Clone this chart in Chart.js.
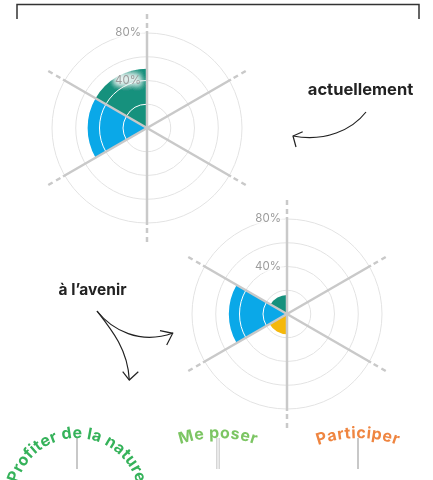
<!DOCTYPE html>
<html>
<head>
<meta charset="utf-8">
<script src="https://cdn.jsdelivr.net/npm/chart.js@4"></script>
<style>
  html, body { margin:0; padding:0; background:#fff; }
  #wrap { position:relative; width:433px; height:480px; overflow:hidden; font-family:Inter, "Noto Sans", sans-serif; }
  .pc { position:absolute; width:240px; height:240px; }
  #deco { position:absolute; left:0; top:0; }
</style>
</head>
<body>
<div id="wrap">
  <div class="pc" style="left:27px;top:8px"><canvas id="nowChart" width="240" height="240"></canvas></div>
  <div class="pc" style="left:167px;top:194px"><canvas id="laterChart" width="240" height="240"></canvas></div>
  <svg id="deco" width="433" height="480">
    <!-- bracket -->
    <path d="M17,19 V4.5 H419 V19" fill="none" stroke="#333" stroke-width="1.5"/>
    <text x="360.5" y="95" text-anchor="middle" font-family="Inter" font-weight="700" font-size="16.5" fill="#222">actuellement</text>
    <path d="M366,112 C352,130 325,142 293,136" fill="none" stroke="#222" stroke-width="1.2"/>
    <path d="M302.7,131.7 L293,136 L296,147" fill="none" stroke="#222" stroke-width="1.2"/>
    <text x="92.5" y="295" text-anchor="middle" font-family="Inter" font-weight="700" font-size="15.5" fill="#222">à l’avenir</text>
    <path d="M97,311 C112,330 140,345 173,333" fill="none" stroke="#222" stroke-width="1.2"/>
    <path d="M160,330.7 L172.7,333.3 L166.7,345" fill="none" stroke="#222" stroke-width="1.2"/>
    <path d="M97,311 C112,330 128,350 129.3,380" fill="none" stroke="#222" stroke-width="1.2"/>
    <path d="M122.7,371.7 L129.3,380 L138.3,371.7" fill="none" stroke="#222" stroke-width="1.2"/>
    <!-- label stems -->
    <line x1="77" y1="438" x2="77" y2="469" stroke="#c8c8c8" stroke-width="2"/>
    <line x1="218" y1="438" x2="218" y2="469" stroke="#c8c8c8" stroke-width="3.5"/>
    <line x1="218" y1="438" x2="218" y2="469" stroke="#fff" stroke-width="1.2"/>
    <line x1="358" y1="438" x2="358" y2="469" stroke="#c8c8c8" stroke-width="2"/>
    <!-- curved labels -->
    <defs>
      <path id="arc1" d="M15,500 A62,62 0 0 1 139,500"/>
      <path id="arc2" d="M101,555 A117,117 0 0 1 335,555"/>
      <path id="arc3" d="M241,555 A117,117 0 0 1 475,555"/>
    </defs>
    <text font-family="Inter" font-weight="700" font-size="16" fill="#35b25a" letter-spacing="0.3"><textPath href="#arc1" startOffset="50%" text-anchor="middle">Profiter de la nature</textPath></text>
    <text font-family="Inter" font-weight="700" font-size="16" fill="#7cc563" letter-spacing="0.5"><textPath href="#arc2" startOffset="50%" text-anchor="middle">Me poser</textPath></text>
    <text font-family="Inter" font-weight="700" font-size="16" fill="#ef8540" letter-spacing="0.5"><textPath href="#arc3" startOffset="50%" text-anchor="middle">Participer</textPath></text>
  </svg>
</div>
<script>
// six sectors, clockwise from the top
var sectors = ['secteur 1','secteur 2','secteur 3','secteur 4','secteur 5','secteur 6'];
var valuesNow   = [0, 0, 0, 0, 50, 50];
var valuesLater = [0, 0, 0, 17, 49, 16];
var sectorColors = ['#cccccc','#cccccc','#cccccc','#f5b80b','#0aa8e8','#16917d'];
var tickLabels = [40, 80];

var GRID = '#e3e3e3', AXIS = '#c9c9c9';

var polarDeco = {
  id:'polarDeco',
  afterDatasetsDraw: function(chart) {
    var ctx = chart.ctx, sc = chart.scales.r;
    var cx = sc.xCenter, cy = sc.yCenter;
    var arcs = chart.getDatasetMeta(0).data;
    // white rings over the filled sectors
    ctx.save();
    ctx.strokeStyle = '#fff'; ctx.lineWidth = 1;
    arcs.forEach(function(a){
      var p = a.getProps(['startAngle','endAngle','outerRadius']);
      sc.ticks.forEach(function(t){
        var r = sc.getDistanceFromCenterForValue(t.value);
        if (t.value > 0 && r < p.outerRadius) {
          ctx.beginPath(); ctx.arc(cx, cy, r, p.startAngle, p.endAngle); ctx.stroke();
        }
      });
    });
    // axis lines, solid then dashed
    var base = sc.drawingArea;
    ctx.strokeStyle = AXIS; ctx.lineWidth = 2.5;
    for (var i = 0; i < sectors.length; i++) {
      var a0 = sc.getPointPosition(i, 0), a1 = sc.getPointPosition(i, base + 2);
      ctx.setLineDash([]);
      ctx.beginPath(); ctx.moveTo(a0.x, a0.y); ctx.lineTo(a1.x, a1.y); ctx.stroke();
      var d0 = sc.getPointPosition(i, base + 5), d1 = sc.getPointPosition(i, base + 19);
      ctx.setLineDash([5, 4]);
      ctx.beginPath(); ctx.moveTo(d0.x, d0.y); ctx.lineTo(d1.x, d1.y); ctx.stroke();
    }
    ctx.setLineDash([]);
    // tick labels with a soft white glow (shadow only, text itself drawn off-canvas)
    ctx.font = '11.5px Inter';
    ctx.textAlign = 'right'; ctx.textBaseline = 'middle';
    tickLabels.forEach(function(v){
      var y = cy - sc.getDistanceFromCenterForValue(v);
      ctx.save();
      ctx.shadowColor = 'rgba(255,255,255,1)'; ctx.shadowBlur = 7;
      ctx.shadowOffsetX = 1000; ctx.fillStyle = '#fff';
      for (var k = 0; k < 9; k++) ctx.fillText(v + '%', cx - 6 - 1000, y);
      ctx.restore();
      ctx.fillStyle = '#9c9c9c';
      ctx.fillText(v + '%', cx - 6, y);
    });
    ctx.restore();
  }
};

function makePolar(id, values) {
  return new Chart(document.getElementById(id), {
    type:'polarArea',
    data:{labels:sectors, datasets:[{data:values, backgroundColor:sectorColors, borderWidth:0}]},
    options:{
      responsive:false, animation:false,
      layout:{padding:25},
      plugins:{legend:{display:false}, tooltip:{enabled:false}},
      scales:{r:{min:0, max:80, ticks:{display:false, stepSize:20}, grid:{color:GRID, lineWidth:1}, angleLines:{display:false}, pointLabels:{display:false}}}
    },
    plugins:[polarDeco]
  });
}

makePolar('nowChart', valuesNow);
makePolar('laterChart', valuesLater);
</script>
</body>
</html>
